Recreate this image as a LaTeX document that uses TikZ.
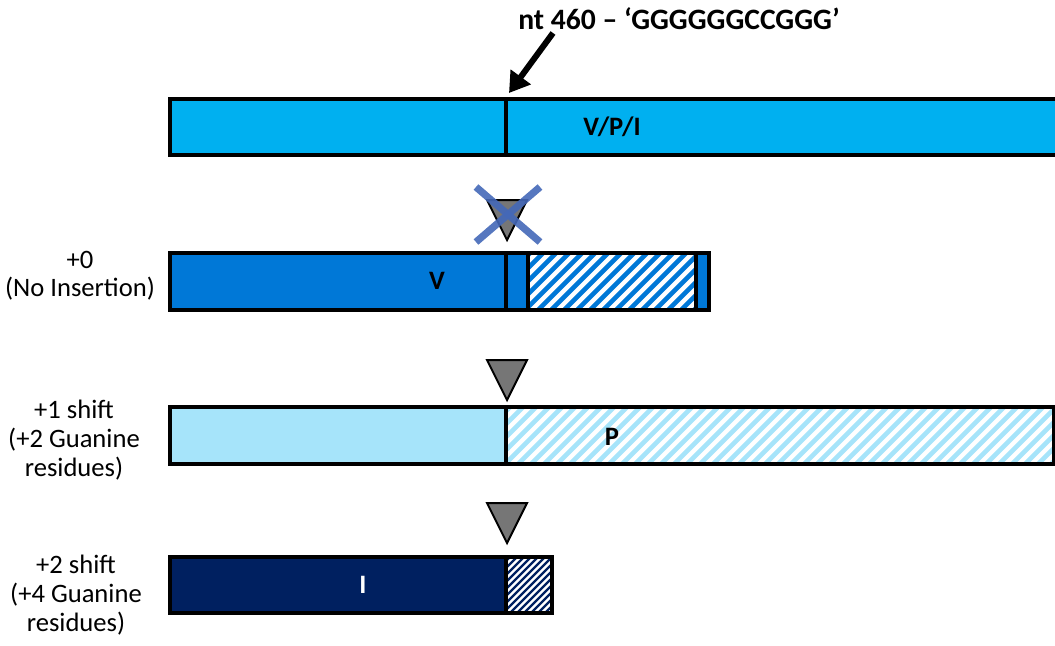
\documentclass[tikz,border=0pt]{standalone}
\usepackage{fontspec}
\setmainfont{Carlito}
\usetikzlibrary{arrows.meta,positioning}

\definecolor{vpiblue}{HTML}{00B0F0}
\definecolor{vblue}{HTML}{0078D7}
\definecolor{pblue}{HTML}{A6E4FA}
\definecolor{pstripe}{HTML}{A6E4FA}
\definecolor{inavy}{HTML}{002060}
\definecolor{trigray}{HTML}{767676}
\definecolor{xblue}{HTML}{4468B8}

\tikzset{
  bar/.style={draw=black, line width=2pt},
  lbl/.style={font=\fontsize{13.3}{14}\selectfont, align=center, inner sep=0pt},
  blbl/.style={lbl, font=\fontsize{13.3}{14}\selectfont\bfseries},
  tri/.style={fill=trigray, draw=black, line width=1pt, line join=miter},
}

% stripes: x1 y1 x2 y2 colour width, list of start x
\newcommand{\stripes}[7]{%
  \begin{scope}
    \clip (#1,#2) rectangle (#3,#4);
    \fill[white] (#1,#2) rectangle (#3,#4);
    \foreach \k in {#7}
      \draw[#5, line width=#6] (\k,#4) -- ++(#4-#2,#2-#4);
  \end{scope}}

\newcommand{\downtri}[2]{%
  \draw[tri] (#1-20,#2) -- (#1+20,#2) -- (#1,#2+40) -- cycle;}

\begin{document}
\begin{tikzpicture}[x=0.5pt, y=-0.5pt]
\useasboundingbox (0,0) rectangle (1055,645);

% bar V/P/I
\fill[vpiblue] (170,99) rectangle (1060,155);
\draw[line width=2pt] (1060,99) -- (170,99) -- (170,155) -- (1060,155);
\draw[line width=2pt] (506,99) -- (506,155);
\node[blbl] (vpi) at (612,127) {V/P/I};

% site arrow
\node[blbl, font=\fontsize{14.8}{16}\selectfont\bfseries] (site) at (679,19) {nt 460 -- ‘GGGGGGCCGGG’};
\coordinate (tail) at (553,33);
\coordinate (head) at (509,93);
\draw[line width=3pt,black,-{Triangle[length=10pt,width=12pt]}] (tail) -- (head);

% +0
\downtri{507}{200}
\draw[xblue, line width=3.6pt, opacity=.9] (476,187) -- (540,242);
\draw[xblue, line width=3.6pt, opacity=.9] (540,187) -- (476,242);

\fill[vblue] (170,253) rectangle (709,310);
\stripes{528}{253}{696}{310}{vblue}{2.3pt}{460,473,...,700}
\draw[bar] (170,253) rectangle (709,310);
\draw[bar] (506,253) -- (506,310);
\draw[bar] (528,253) -- (528,310);
\draw[bar] (696,253) -- (696,310);
\node[blbl] (v) at (437,281) {V};
\node[lbl] (ins0) at (80,276) {+0\\(No Insertion)};

% +1
\downtri{507}{360}
\fill[pblue] (170,407) rectangle (506,464);
\stripes{506}{407}{1054}{464}{pstripe}{2.3pt}{440,453,...,1060}
\draw[bar] (170,407) rectangle (1054,464);
\draw[bar] (506,407) -- (506,464);
\node[blbl] (p) at (612,437) {P};
\node[lbl] (ins1) at (74,440) {+1 shift\\[0.4pt](+2 Guanine\\[0.4pt]residues)};

% +2
\downtri{507}{503}
\fill[inavy] (170,557) rectangle (506,613);
\stripes{506}{557}{552}{613}{inavy}{1.1pt}{440,447,...,560}
\draw[bar] (170,557) rectangle (552,613);
\draw[bar] (506,557) -- (506,613);
\node[blbl, text=white] (i) at (363,585) {I};
\node[lbl] (ins2) at (76,595) {+2 shift\\[0.4pt](+4 Guanine\\[0.4pt]residues)};

\end{tikzpicture}
\end{document}
